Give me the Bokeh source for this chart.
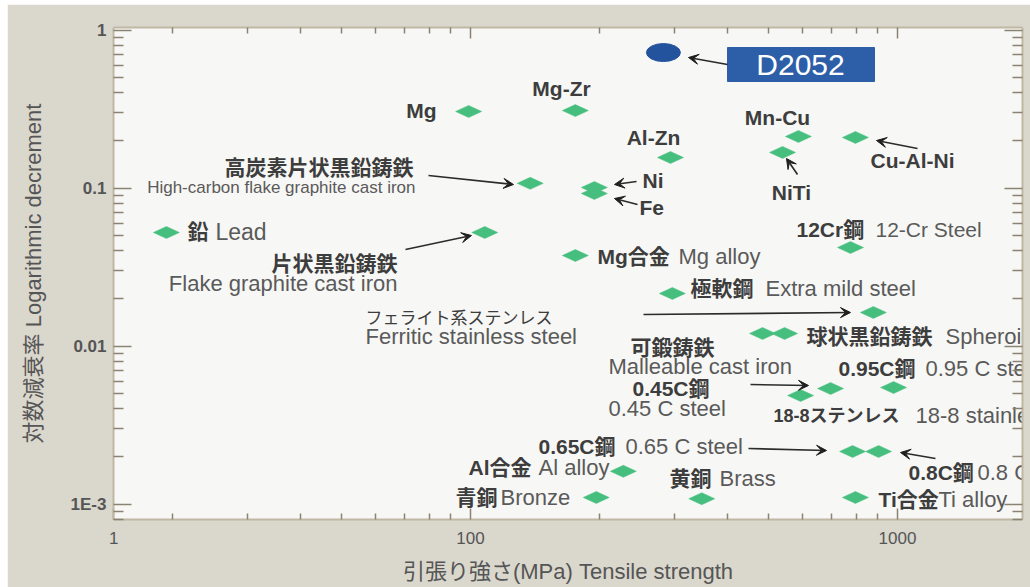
from bokeh.plotting import figure
from bokeh.models import (Range1d, LogAxis, FixedTicker, CustomJSTickFormatter,
                          Arrow, VeeHead)
from bokeh.core.properties import value
from bokeh.embed import file_html
from bokeh.resources import INLINE

# ---------------- data (tensile strength MPa, logarithmic decrement) ----------------
materials = ["Mg", "Mg-Zr", "Al-Zn", "Mn-Cu", "Cu-Al-Ni", "NiTi", "High-carbon flake graphite cast iron",
             "Ni", "Fe", "Lead", "Flake graphite cast iron", "12-Cr Steel", "Mg alloy",
             "Extra mild steel", "Ferritic stainless steel", "Spheroidal graphite cast iron (a)",
             "Spheroidal graphite cast iron (b)", "0.95 C steel", "18-8 stainless steel",
             "0.45 C steel", "0.65 C steel", "0.8 C steel", "Al alloy", "Brass", "Bronze", "Ti alloy"]
strength = [99, 176, 294, 586, 797, 538, 138,
            195, 195, 19.4, 108, 776, 176,
            297, 878, 483,
            544, 979, 697,
            593, 785, 903, 228, 348, 197, 797]
decrement = [0.305, 0.309, 0.156, 0.212, 0.209, 0.168, 0.107,
             0.1007, 0.0923, 0.0523, 0.0523, 0.0420, 0.0374,
             0.0215, 0.0163, 0.0120,
             0.0120, 0.00546, 0.00538,
             0.00486, 0.00215, 0.00215, 0.00161, 0.00108, 0.00110, 0.00110]
d2052_strength = [283]
d2052_decrement = [0.72]

x_tick_values = [100, 1000]
x_edge_label = "1"
y_tick_values = [1, 0.1, 0.01, 0.001]
y_tick_labels = ["1", "0.1", "0.01", "1E-3"]
x_minor_values = [20, 30, 40, 50, 60, 70, 80, 90, 200, 300, 400, 500, 600, 700, 800, 900]
y_minor_values = [k * 10.0 ** e for e in (-4, -3, -2, -1) for k in range(2, 10)]

# ---------------- layout helpers (screen pixel -> data) ----------------
W, H = 1030, 587
OX, OY = 7, 4
FL, FR, FT, FB = 113, 1022, 27, 519


def X(px):
    return 10 ** (2 + (px - 470) / 427.0)


def Y(py):
    return 10 ** (-(py - 29.5) / 158.0)


FONT = "Liberation Sans, Noto Sans CJK JP"
DARK = "#3d3d3d"
GREY = "#5a5a5a"
AXC = "#c0b7a4"
TKC = "#8a8272"

p = figure(width=W - OX, height=H - OY, x_axis_type="log", y_axis_type="log",
           x_range=Range1d(X(FL), X(FR)), y_range=Range1d(Y(FB), Y(FT)),
           output_backend="svg", toolbar_location=None,
           min_border_left=FL - OX, min_border_right=W - FR, min_border_top=FT - OY,
           min_border_bottom=H - FB, margin=(OY, 0, 0, OX),
           background_fill_color="#f7f7f5", border_fill_color="#dad7cd",
           outline_line_color=None)
p.xgrid.visible = False
p.ygrid.visible = False

JS = """
for (let i = 0; i < vals.length; i++) {
  if (Math.abs(Math.log10(tick) - Math.log10(vals[i])) < 0.01) return labs[i];
}
return "";
"""
x_edge = X(FL + 0.3)
xfmt = CustomJSTickFormatter(args=dict(vals=[x_edge] + x_tick_values,
                                       labs=[x_edge_label] + [str(v) for v in x_tick_values]),
                             code=JS)
yfmt = CustomJSTickFormatter(args=dict(vals=y_tick_values, labs=y_tick_labels), code=JS)
blank = CustomJSTickFormatter(code="return ' ';")


def style_axis(ax, horiz):
    ax.axis_line_color = AXC
    ax.axis_line_width = 2
    ax.major_tick_line_color = TKC
    ax.minor_tick_line_color = TKC
    ax.major_tick_line_width = 1.5
    ax.minor_tick_line_width = 1.5
    ax.major_tick_out = 0
    ax.minor_tick_out = 0
    if horiz:
        ax.major_tick_in = 11
        ax.minor_tick_in = 6
    else:
        ax.major_tick_in = 18
        ax.minor_tick_in = 10


xa = p.xaxis[0]
xa.ticker = FixedTicker(ticks=[x_edge] + x_tick_values, minor_ticks=x_minor_values)
xa.formatter = xfmt
style_axis(xa, True)
xa.major_label_text_font = FONT
xa.major_label_text_font_size = "17px"
xa.major_label_text_color = "#555555"
xa.major_label_standoff = 12
xa.axis_label = "引張り強さ(MPa) Tensile strength"
xa.axis_label_text_font = FONT
xa.axis_label_text_font_size = "22px"
xa.axis_label_text_font_style = "normal"
xa.axis_label_text_color = "#555555"
xa.axis_label_standoff = 12

ya = p.yaxis[0]
ya.ticker = FixedTicker(ticks=y_tick_values, minor_ticks=y_minor_values)
ya.formatter = yfmt
style_axis(ya, False)
ya.major_label_text_font = FONT
ya.major_label_text_font_size = "17px"
ya.major_label_text_font_style = "bold"
ya.major_label_text_color = "#555555"
ya.major_label_standoff = 7
ya.axis_label = "対数減衰率 Logarithmic decrement"
ya.axis_label_text_font = FONT
ya.axis_label_text_font_size = "22px"
ya.axis_label_text_font_style = "normal"
ya.axis_label_text_color = "#555555"
ya.axis_label_standoff = 22

top = LogAxis(ticker=FixedTicker(ticks=x_tick_values, minor_ticks=x_minor_values),
              formatter=blank, major_label_text_font_size="2px", major_label_standoff=0)
style_axis(top, True)
p.add_layout(top, "above")
right = LogAxis(ticker=FixedTicker(ticks=y_tick_values, minor_ticks=y_minor_values),
                formatter=blank, major_label_text_font_size="2px", major_label_standoff=0)
style_axis(right, False)
p.add_layout(right, "right")

# ---------------- markers ----------------
fx = 10 ** (13 / 427.0)
fy = 10 ** (6 / 158.0)
xs = [[x / fx, x, x * fx, x] for x in strength]
ys = [[y, y * fy, y, y / fy] for y in decrement]
p.patches(xs, ys, fill_color="#46bf7e", line_color="#46bf7e", line_width=0.5)

p.ellipse(x=d2052_strength, y=d2052_decrement, width=34, height=18,
          width_units="screen", height_units="screen",
          fill_color="#24539e", line_color="#24539e")

# D2052 label box
p.quad(left=[X(727)], right=[X(874)], top=[Y(47)], bottom=[Y(81)],
       fill_color="#2d5ea8", line_color="#2d5ea8")


def txt(px, py, s, size, bold=False, color=DARK, align="left"):
    p.text(x=[X(px)], y=[Y(py)], text=[s], text_font=value(FONT),
           text_font_size=f"{size}px", text_font_style="bold" if bold else "normal",
           text_color=color, text_align=align, text_baseline="middle")


txt(800, 64, "D2052", 30, color="white", align="center")
txt(436, 110, "Mg", 21, True, align="right")
txt(561, 88, "Mg-Zr", 21, True, align="center")
txt(653, 137, "Al-Zn", 21, True, align="center")
txt(777, 117, "Mn-Cu", 21, True, align="center")
txt(870, 160, "Cu-Al-Ni", 21, True)
txt(791, 192, "NiTi", 21, True, align="center")
txt(642, 180, "Ni", 21, True)
txt(639, 207, "Fe", 21, True)
txt(413, 167, "高炭素片状黒鉛鋳鉄", 21, True, align="right")
txt(415, 187, "High-carbon flake graphite cast iron", 17, False, GREY, align="right")
txt(187, 231, "鉛", 21, True)
txt(215, 231, "Lead", 23, False, GREY)
txt(397, 263, "片状黒鉛鋳鉄", 21, True, align="right")
txt(397, 283, "Flake graphite cast iron", 22, False, GREY, align="right")
txt(796, 229, "12Cr鋼", 21, True)
txt(875, 229, "12-Cr Steel", 21, False, GREY)
txt(597, 256, "Mg合金", 21, True)
txt(678, 256, "Mg alloy", 22, False, GREY)
txt(690, 288, "極軟鋼", 21, True)
txt(765, 288, "Extra mild steel", 22, False, GREY)
txt(365, 318, "フェライト系ステンレス", 17, False, DARK)
txt(365, 336, "Ferritic stainless steel", 22, False, GREY)
txt(806, 336, "球状黒鉛鋳鉄", 21, True)
txt(945, 336, "Spheroidal graphite cast iron", 22, False, GREY)
txt(630, 347, "可鍛鋳鉄", 21, True)
txt(608, 366, "Malleable cast iron", 22, False, GREY)
txt(632, 388, "0.45C鋼", 21, True)
txt(608, 408, "0.45 C steel", 22, False, GREY)
txt(838, 368, "0.95C鋼", 21, True)
txt(925, 368, "0.95 C steel", 22, False, GREY)
txt(773, 415, "18-8ステンレス", 18, True)
txt(915, 415, "18-8 stainless steel", 22, False, GREY)
txt(538, 446, "0.65C鋼", 21, True)
txt(625, 446, "0.65 C steel", 22, False, GREY)
txt(468, 467, "Al合金", 21, True)
txt(538, 467, "Al alloy", 22, False, GREY)
txt(669, 478, "黄銅", 21, True)
txt(719, 478, "Brass", 22, False, GREY)
txt(455, 497, "青銅", 21, True)
txt(500, 497, "Bronze", 22, False, GREY)
txt(908, 472, "0.8C鋼", 21, True)
txt(977, 472, "0.8 C steel", 22, False, GREY)
txt(878, 499, "Ti合金", 21, True)
txt(938, 499, "Ti alloy", 22, False, GREY)

# ---------------- arrows ----------------
arrows = [((727, 64), (688, 57)), ((428, 175), (513, 184)), ((405, 249), (471, 235)),
          ((636, 181), (614, 184)), ((637, 204), (614, 198)), ((797, 174), (786, 158)),
          ((917, 148), (876, 140)), ((643, 314), (850, 312)), ((750, 384), (808, 385)),
          ((748, 448), (826, 450)), ((935, 458), (900, 452))]
for (x0, y0), (x1, y1) in arrows:
    p.add_layout(Arrow(x_start=X(x0), y_start=Y(y0), x_end=X(x1), y_end=Y(y1),
                       line_color="#2b2b2b", line_width=1.6,
                       end=VeeHead(size=10, fill_color="#1e1e1e", line_color="#1e1e1e")))

open("out.html", "w").write(file_html(p, INLINE))
